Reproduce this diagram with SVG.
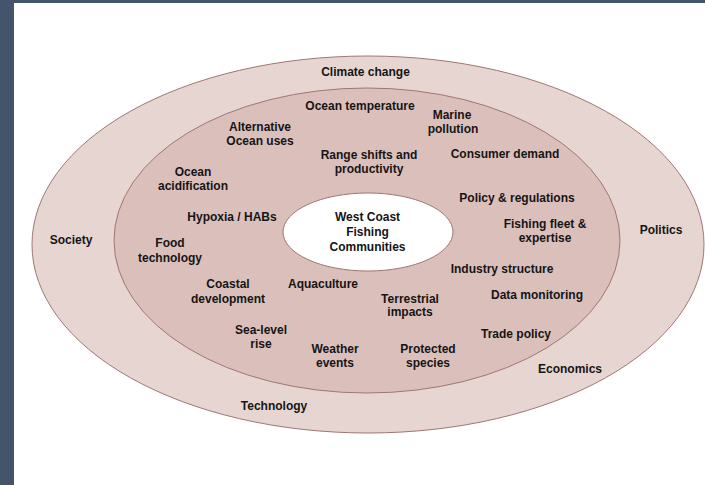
<svg xmlns="http://www.w3.org/2000/svg" width="705" height="485" viewBox="0 0 705 485">
<style>
.t{font-family:"Liberation Sans",Arial,sans-serif;font-size:12px;font-weight:bold;fill:#151515;text-anchor:middle}
.ring{stroke:#9e7773;stroke-width:1}
</style>
<rect x="0" y="0" width="705" height="485" fill="#ffffff"/>
<rect x="0" y="0" width="14" height="485" fill="#44546a"/>
<rect x="0" y="0" width="705" height="3" fill="#44546a"/>
<g id="outer-ring">
<ellipse class="ring" cx="368" cy="244.5" rx="336" ry="188.5" fill="#e7d5d2"/>
<text class="t" x="365.5" y="76">Climate change</text>
<text class="t" x="71" y="244">Society</text>
<text class="t" x="661" y="234">Politics</text>
<text class="t" x="274" y="410">Technology</text>
<text class="t" x="570" y="373">Economics</text>
</g>
<g id="inner-ring">
<ellipse class="ring" cx="367" cy="240.5" rx="253" ry="152.5" fill="#dbbfbb"/>
<text class="t" x="360" y="110">Ocean temperature</text>
<text class="t" x="452" y="119">Marine</text>
<text class="t" x="453" y="133">pollution</text>
<text class="t" x="260" y="131">Alternative</text>
<text class="t" x="260" y="145">Ocean uses</text>
<text class="t" x="369" y="159">Range shifts and</text>
<text class="t" x="369" y="173">productivity</text>
<text class="t" x="505" y="158">Consumer demand</text>
<text class="t" x="193" y="176">Ocean</text>
<text class="t" x="193" y="190">acidification</text>
<text class="t" x="517" y="202">Policy &amp; regulations</text>
<text class="t" x="232" y="221">Hypoxia / HABs</text>
<text class="t" x="545" y="228">Fishing fleet &amp;</text>
<text class="t" x="545" y="242">expertise</text>
<text class="t" x="170" y="247">Food</text>
<text class="t" x="170" y="262">technology</text>
<text class="t" x="502" y="273">Industry structure</text>
<text class="t" x="228" y="288">Coastal</text>
<text class="t" x="228" y="303">development</text>
<text class="t" x="323" y="288">Aquaculture</text>
<text class="t" x="410" y="303">Terrestrial</text>
<text class="t" x="410" y="316">impacts</text>
<text class="t" x="537" y="299">Data monitoring</text>
<text class="t" x="516" y="338">Trade policy</text>
<text class="t" x="261" y="334">Sea-level</text>
<text class="t" x="261" y="348">rise</text>
<text class="t" x="335" y="353">Weather</text>
<text class="t" x="335" y="367">events</text>
<text class="t" x="428" y="353">Protected</text>
<text class="t" x="428" y="367">species</text>
</g>
<g id="center">
<ellipse class="ring" cx="368" cy="232" rx="85" ry="39" fill="#ffffff"/>
<text class="t" x="367.5" y="221">West Coast</text>
<text class="t" x="367.5" y="236">Fishing</text>
<text class="t" x="367.5" y="251">Communities</text>
</g>
</svg>
